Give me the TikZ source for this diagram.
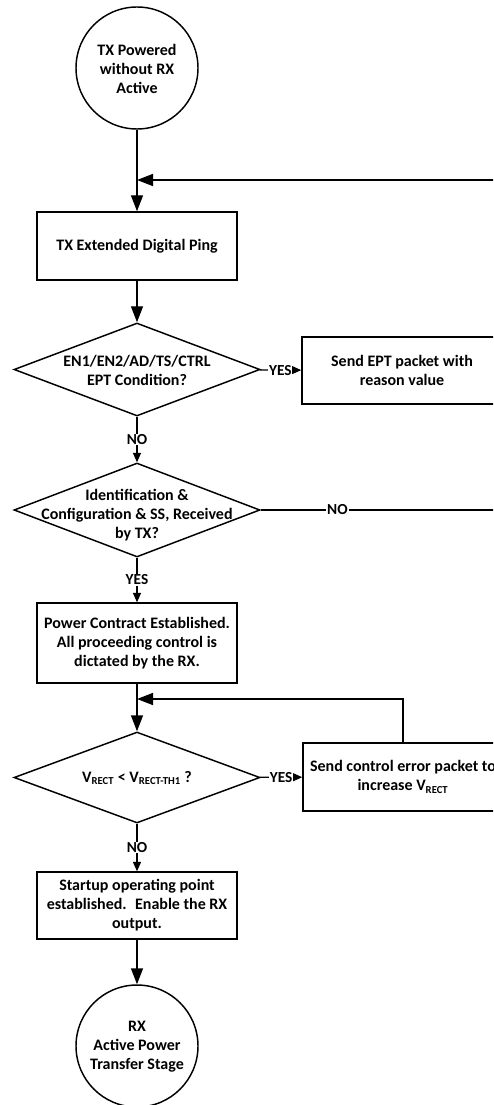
\documentclass[tikz,border=0pt]{standalone}
\usepackage{fontspec}
\setmainfont{Carlito}
\usetikzlibrary{shapes.geometric,arrows.meta}

\begin{document}
\begin{tikzpicture}[x=0.75pt,y=0.75pt,yscale=-1,xscale=1,
    every node/.style={font=\bfseries\fontsize{12}{14.25}\selectfont, align=center},
    procbox/.style={draw, line width=1.1pt, rectangle, minimum width=150pt, minimum height=51pt, inner sep=1pt},
    termcirc/.style={draw, line width=1.1pt, circle, minimum size=91.5pt, inner sep=0pt},
    decision/.style={draw, line width=1.1pt, diamond, minimum width=184.5pt, minimum height=69.75pt, inner sep=0pt},
    bigarrow/.style={line width=1.1pt, -{Triangle[length=12pt,width=9pt]}},
    lblarrow/.style={line width=0.9pt, -{Triangle[length=7pt,width=6pt]}},
    lbl/.style={fill=white, inner sep=0.6pt, font=\bfseries\fontsize{11.5}{13}\selectfont}]
        \useasboundingbox (0,0) rectangle (493,1105);
        \clip (0,0) rectangle (493,1105);
        %Shape: Circle [id:start]
        \node[termcirc] (start) at (137,68) {};
        % Text Node
        \node (startt) at (137,69) {TX Powered\\without RX\\Active};
        %Shape: Rectangle [id:ping]
        \node[procbox, minimum height=51pt] (ping) at (137,246) {TX Extended Digital Ping};
        %Shape: Diamond [id:ept]
        \node[decision] (ept) at (137,369.5) {};
        % Text Node
        \node (eptt) at (137,370.5) {EN1/EN2/AD/TS/CTRL\\EPT Condition?};
        %Shape: Rectangle [id:eptpkt]
        \node[procbox, minimum height=50.25pt] (eptpkt) at (402,370.5) {Send EPT packet with\\reason value};
        %Shape: Diamond [id:ident]
        \node[decision, minimum height=70.5pt] (ident) at (137,510) {};
        % Text Node
        \node (identt) at (137,515) {Identification \&\\Configuration \& SS, Received\\by TX?};
        %Shape: Rectangle [id:contract]
        \node[procbox, minimum height=60pt] (contract) at (137,643) {Power Contract Established.\\All proceeding control is\\dictated by the RX.};
        %Shape: Diamond [id:vrect]
        \node[decision, minimum height=68.25pt] (vrect) at (137,777.5) {};
        % Text Node
        \node (vrectt) at (137,778) {V\textsubscript{RECT} < V\textsubscript{RECT-TH1} ?};
        %Shape: Rectangle [id:ceboost]
        \node[procbox, minimum height=51pt] (ceboost) at (403,777) {Send control error packet to\\increase V\textsubscript{RECT}};
        %Shape: Rectangle [id:startup]
        \node[procbox, minimum height=50.25pt] (startup) at (137,905.5) {Startup operating point\\established.~ Enable the RX\\output.};
        %Shape: Circle [id:rxpower]
        \node[termcirc] (rxpower) at (137,1046) {};
        % Text Node
        \node (rxpowert) at (137,1046.5) {RX\\Active Power\\Transfer Stage};

        % Join points
        \coordinate (pingjoin) at (137,180);
        \coordinate (rail) at (520,180);
        \coordinate (cejoin) at (137,699);

        %Straight Lines
        \draw[bigarrow] (start) -- (ping);
        \draw[bigarrow] (ping) -- (ept);
        \draw[lblarrow] (ept) -- node[lbl]{NO} (ident);
        \draw[lblarrow] (ept) -- node[lbl]{YES} (eptpkt);
        \draw[lblarrow] (ident) -- node[lbl]{YES} (contract);
        \draw[line width=0.9pt] (ident.east) -- node[lbl, pos=0.296]{NO} (ident.east -| rail) -- (rail);
        \draw[bigarrow] (eptpkt.east) -| (rail) -- (pingjoin);
        \draw[bigarrow] (contract) -- (vrect);
        \draw[lblarrow] (vrect) -- node[lbl]{YES} (ceboost);
        \draw[bigarrow] (ceboost.north) |- (cejoin);
        \draw[lblarrow] (vrect) -- node[lbl]{NO} (startup);
        \draw[bigarrow] (startup) -- (rxpower);
\end{tikzpicture}
\end{document}
